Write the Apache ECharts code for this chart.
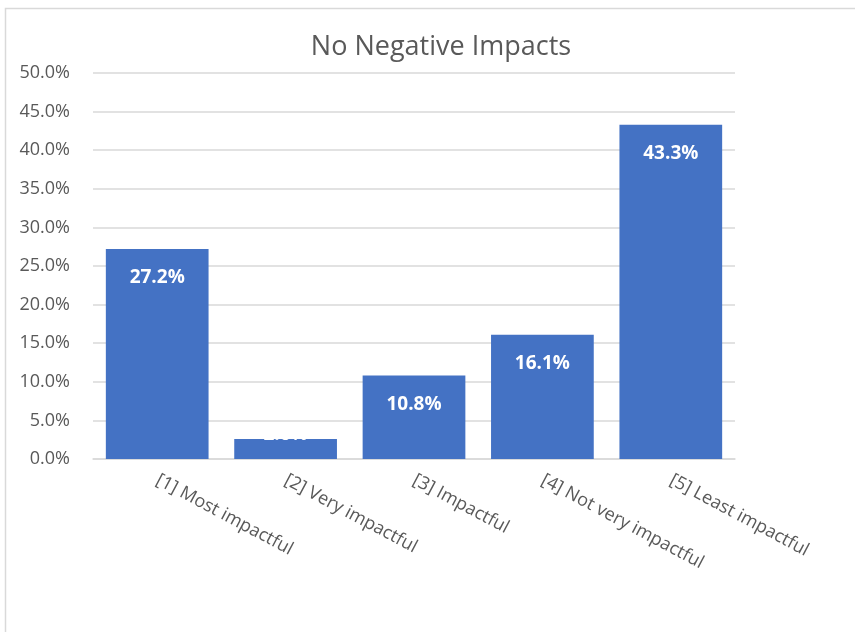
<!DOCTYPE html>
<html>
<head>
<meta charset="utf-8">
<script src="https://cdn.jsdelivr.net/npm/echarts@6/dist/echarts.min.js"></script>
<style>
  html, body { margin: 0; padding: 0; background: #ffffff; }
  #chart { width: 855px; height: 632px; }
</style>
</head>
<body>
<div id="chart"></div>
<script>
// Share of responses per impact rating
const categories = ['[1] Most impactful', '[2] Very impactful', '[3] Impactful', '[4] Not very impactful', '[5] Least impactful'];
const shares = [27.2, 2.6, 10.8, 16.1, 43.3];
const yTicks = { min: 0, max: 50, interval: 5 };
const chartTitle = 'No Negative Impacts';

const FONT = '"Open Sans", "Noto Sans", sans-serif';
const TEXT = '#595959';

const chart = echarts.init(document.getElementById('chart'), null, { renderer: 'canvas' });

const barData = shares.map(function (v) {
  const item = { value: v };
  // a bar too short for its label: the label sits over the bar top
  if (v < 5) {
    item.label = { position: 'top', distance: -5 };
  }
  return item;
});

chart.setOption({
  animation: false,
  backgroundColor: '#ffffff',
  title: {
    text: chartTitle,
    top: 29,
    left: 436,
    textAlign: 'center',
    textStyle: { fontFamily: FONT, fontSize: 27, fontWeight: 'normal', color: TEXT }
  },
  graphic: [{
    type: 'rect',
    shape: { x: 5.5, y: 8.5, width: 900, height: 700 },
    style: { fill: 'none', stroke: '#d9d9d9', lineWidth: 1.5 },
    silent: true
  }],
  grid: { left: 93, right: 120, top: 73, bottom: 173 },
  xAxis: {
    type: 'category',
    data: categories,
    axisLine: { show: true, lineStyle: { color: '#d9d9d9', width: 1.5 } },
    axisTick: { show: false },
    axisLabel: {
      interval: 0,
      rotate: -28,
      margin: 20,
      fontFamily: FONT,
      fontSize: 18,
      color: TEXT
    }
  },
  yAxis: {
    type: 'value',
    min: yTicks.min,
    max: yTicks.max,
    interval: yTicks.interval,
    axisLine: { show: false },
    axisTick: { show: false },
    splitLine: { lineStyle: { color: '#d9d9d9', width: 1.5 } },
    axisLabel: {
      margin: 23,
      fontFamily: FONT,
      fontSize: 18,
      color: TEXT,
      formatter: function (v) { return v.toFixed(1) + '%'; }
    }
  },
  series: [{
    type: 'bar',
    data: barData,
    barCategoryGap: '20%',
    itemStyle: { color: '#4472c4' },
    label: {
      show: true,
      position: 'insideTop',
      distance: 19,
      color: '#ffffff',
      fontFamily: FONT,
      fontSize: 19,
      fontWeight: 'bold',
      formatter: function (p) { return p.value.toFixed(1) + '%'; }
    }
  }]
});
</script>
</body>
</html>
